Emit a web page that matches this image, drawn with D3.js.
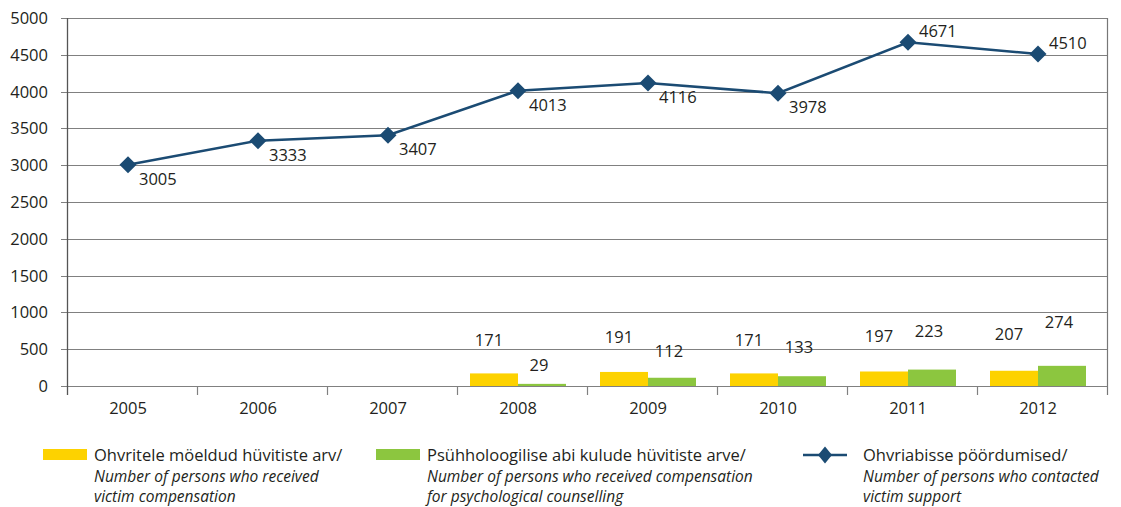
<!DOCTYPE html>
<html>
<head>
<meta charset="utf-8">
<script src="https://cdn.jsdelivr.net/npm/d3@7/dist/d3.min.js"></script>
<style>
  html, body { margin: 0; padding: 0; background: #fff; }
  svg { display: block; font-family: "Open Sans", "Noto Sans", sans-serif; }
</style>
</head>
<body>
<svg id="chart" width="1121" height="507"></svg>
<script>
// Victim support statistics, 2005–2012
const years = ["2005", "2006", "2007", "2008", "2009", "2010", "2011", "2012"];
const compensation = [null, null, null, 171, 191, 171, 197, 207];
const counselling = [null, null, null, 29, 112, 133, 223, 274];
const contacts = [3005, 3333, 3407, 4013, 4116, 3978, 4671, 4510];
const yTicks = [0, 500, 1000, 1500, 2000, 2500, 3000, 3500, 4000, 4500, 5000];

const legendItems = [
  { kind: "bar", color: "#fdd200", title: "Ohvritele möeldud hüvitiste arv/",
    lines: ["Number of persons who received", "victim compensation"] },
  { kind: "bar", color: "#8cc63f", title: "Psühholoogilise abi kulude hüvitiste arve/",
    lines: ["Number of persons who received compensation", "for psychological counselling"] },
  { kind: "line", color: "#1b4b73", title: "Ohvriabisse pöördumised/",
    lines: ["Number of persons who contacted", "victim support"] }
];

const C_YELLOW = "#fdd200", C_GREEN = "#8cc63f", C_LINE = "#1b4b73";
const GRID = "#808080", TEXT = "#231f20";
const FS = 16.5;

const svg = d3.select("#chart");
const plotL = 67, plotR = 1107, plotT = 18, plotB = 386;

const x = d3.scaleBand().domain(years).range([plotL, plotR]).padding(0);
const y = d3.scaleLinear().domain([0, 5000]).range([plotB, plotT]);
const shift = -4; // marks sit slightly left of the category centre
const barW = 48;
const labelLift = d3.scaleLinear().domain([0, 300]).range([16, 68]);

// Horizontal gridlines with short outer ticks
svg.append("g").selectAll("line").data(yTicks).join("line")
  .attr("x1", plotL - 6).attr("x2", plotR)
  .attr("y1", d => Math.round(y(d)) + 0.5).attr("y2", d => Math.round(y(d)) + 0.5)
  .attr("stroke", GRID).attr("stroke-width", 1.2);

// Y tick labels
svg.append("g").selectAll("text").data(yTicks).join("text")
  .attr("x", 48).attr("y", d => y(d)).attr("dy", "0.36em")
  .attr("text-anchor", "end").attr("font-size", FS).attr("fill", TEXT)
  .text(d => d);

// Vertical axis lines
svg.append("line").attr("x1", plotL + 0.5).attr("x2", plotL + 0.5)
  .attr("y1", plotT).attr("y2", plotB + 9).attr("stroke", "#555").attr("stroke-width", 1.3);
svg.append("line").attr("x1", plotR + 0.5).attr("x2", plotR + 0.5)
  .attr("y1", plotT).attr("y2", plotB + 9).attr("stroke", "#777").attr("stroke-width", 1.2);

// Category boundary ticks
svg.append("g").selectAll("line").data(years.slice(1)).join("line")
  .attr("x1", d => Math.round(x(d)) + 0.5).attr("x2", d => Math.round(x(d)) + 0.5)
  .attr("y1", plotB).attr("y2", plotB + 9)
  .attr("stroke", GRID).attr("stroke-width", 1.2);

// Category labels
svg.append("g").selectAll("text").data(years).join("text")
  .attr("x", d => x(d) + x.bandwidth() / 2 + shift).attr("y", 408).attr("dy", "0.36em")
  .attr("text-anchor", "middle").attr("font-size", FS).attr("fill", TEXT)
  .text(d => d);

// Bars
const barData = years.map((yr, i) => ({ yr, a: compensation[i], b: counselling[i] }))
  .filter(d => d.a != null);
const bars = svg.append("g");
bars.selectAll("rect.a").data(barData).join("rect").attr("class", "a")
  .attr("x", d => x(d.yr) + x.bandwidth() / 2 + shift - barW)
  .attr("width", barW)
  .attr("y", d => y(d.a)).attr("height", d => y(0) - y(d.a))
  .attr("fill", C_YELLOW);
bars.selectAll("rect.b").data(barData).join("rect").attr("class", "b")
  .attr("x", d => x(d.yr) + x.bandwidth() / 2 + shift)
  .attr("width", barW)
  .attr("y", d => y(d.b)).attr("height", d => y(0) - y(d.b))
  .attr("fill", C_GREEN);

// Bar value labels
bars.selectAll("text.a").data(barData).join("text").attr("class", "a")
  .attr("x", d => x(d.yr) + x.bandwidth() / 2 + shift - barW / 2 - 5)
  .attr("y", d => plotB - labelLift(d.a)).attr("dy", "0.36em")
  .attr("text-anchor", "middle").attr("font-size", FS).attr("fill", TEXT)
  .text(d => d.a);
bars.selectAll("text.b").data(barData).join("text").attr("class", "b")
  .attr("x", d => x(d.yr) + x.bandwidth() / 2 + shift + barW / 2 - 3)
  .attr("y", d => plotB - labelLift(d.b)).attr("dy", "0.36em")
  .attr("text-anchor", "middle").attr("font-size", FS).attr("fill", TEXT)
  .text(d => d.b);

// Line series
const pts = years.map((yr, i) => ({ yr, v: contacts[i], i }));
const px = d => x(d.yr) + x.bandwidth() / 2 + shift;
svg.append("path").datum(pts)
  .attr("d", d3.line().x(px).y(d => y(d.v)))
  .attr("fill", "none").attr("stroke", C_LINE).attr("stroke-width", 2.5);

svg.append("g").selectAll("path").data(pts).join("path")
  .attr("transform", d => `translate(${px(d)},${y(d.v)})`)
  .attr("d", "M0,-8.5L8.5,0L0,8.5L-8.5,0Z")
  .attr("fill", C_LINE);

svg.append("g").selectAll("text").data(pts).join("text")
  .attr("x", d => px(d) + 11)
  .attr("y", d => d.i >= 6 ? y(d.v) - 11 : y(d.v) + 14)
  .attr("dy", "0.36em")
  .attr("font-size", FS).attr("fill", TEXT)
  .text(d => d.v);

// Legend
const lx = [43, 376, 803];
const lg = svg.append("g");
legendItems.forEach((it, i) => {
  const g = lg.append("g").attr("transform", `translate(${lx[i]},0)`);
  if (it.kind === "bar") {
    g.append("rect").attr("x", 0).attr("y", 449).attr("width", 44).attr("height", 11).attr("fill", it.color);
  } else {
    g.append("line").attr("x1", 0).attr("x2", 44).attr("y1", 455).attr("y2", 455)
      .attr("stroke", it.color).attr("stroke-width", 2.5);
    g.append("path").attr("transform", "translate(22,455)")
      .attr("d", "M0,-8.5L7,0L0,8.5L-7,0Z").attr("fill", it.color);
  }
  const tx = it.kind === "bar" ? 51 : 60;
  g.append("text").attr("x", tx).attr("y", 455).attr("dy", "0.36em")
    .attr("font-size", FS).attr("fill", TEXT).text(it.title);
  it.lines.forEach((ln, j) => {
    g.append("text").attr("x", tx).attr("y", 476 + j * 20).attr("dy", "0.36em")
      .attr("font-size", 15.5).attr("font-style", "italic").attr("fill", TEXT).text(ln);
  });
});
</script>
</body>
</html>
